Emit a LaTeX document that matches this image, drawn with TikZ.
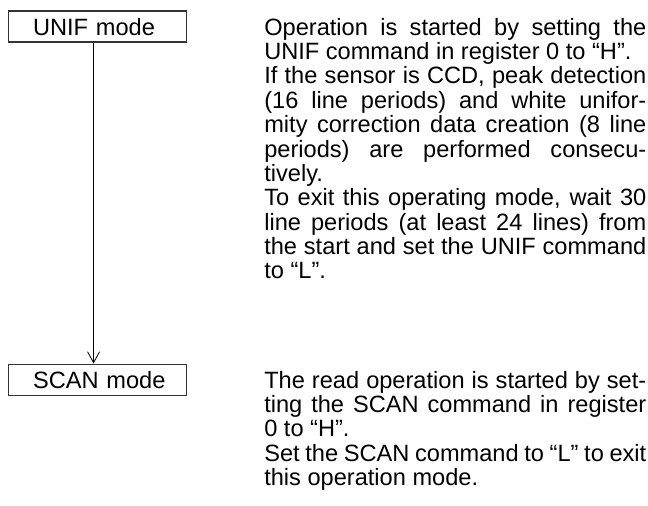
\documentclass[tikz,border=0pt]{standalone}
\usepackage{fontspec}
\setmainfont{Liberation Sans}
\usetikzlibrary{positioning,arrows.meta}
\setlength{\parindent}{0pt}

\begin{document}
\begin{tikzpicture}[
      every node/.style={font=\fontsize{23.6pt}{24.4pt}\selectfont},
      M/.style={draw=black!80,line width=1.1pt,inner xsep=0pt,inner ysep=7pt,
        text height=17pt,text depth=0pt,text width=178pt,align=left,
        execute at begin node={\hspace*{24.5pt}}},
      dtxt/.style={inner sep=0pt,text width=382pt,align=justify},
      >={Straight Barb[length=11pt,width=12pt]},
    ]
    \useasboundingbox (0,0) rectangle (648pt,-506pt);
    \node[M,anchor=base west] (unif) at (8pt,-35pt) {UNIF mode};
    \node[M,below=321pt of unif] (scan) {SCAN mode};

    % text beside each mode
    \node[dtxt,anchor=base west] (unifdesc) at ([xshift=77pt]unif.base east)
      {Operation is started by setting the\linebreak
       UNIF command in register 0 to “H”.\\
       If the sensor is CCD, peak detection\linebreak
       (16 line periods) and white unifor-\linebreak
       mity correction data creation (8 line\linebreak
       periods) are performed consecu-\linebreak
       tively.\\
       To exit this operating mode, wait 30\linebreak
       line periods (at least 24 lines) from\linebreak
       the start and set the UNIF command\linebreak
       to “L”.};
    \node[dtxt,anchor=base west] (scandesc) at ([xshift=77pt]scan.base east)
      {The read operation is started by set-\linebreak
       ting the SCAN command in register\linebreak
       0 to “H”.\\
       Set the SCAN command to “L” to exit\linebreak
       this operation mode.};

    \draw[->,line width=0.8pt] ([xshift=-4pt]unif.south) -- ([xshift=-4pt]scan.north);
  \end{tikzpicture}
\end{document}
